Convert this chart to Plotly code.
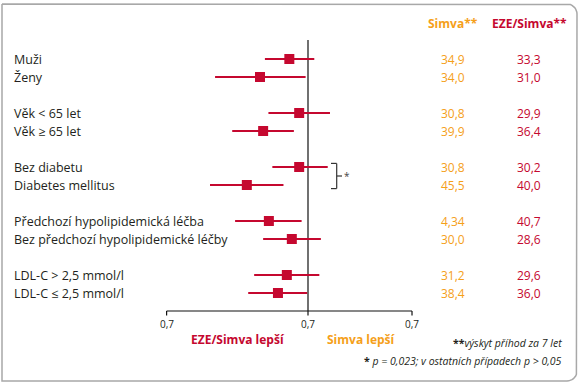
import plotly.graph_objects as go
import math

# ---- data ----
groups = [
    ["Muži", "Ženy"],
    ["Věk < 65 let", "Věk ≥ 65 let"],
    ["Bez diabetu", "Diabetes mellitus"],
    ["Předchozí hypolipidemická léčba", "Bez předchozí hypolipidemické léčby"],
    ["LDL-C > 2,5 mmol/l", "LDL-C ≤ 2,5 mmol/l"],
]
hr = [0.954, 0.886, 0.978, 0.893, 0.978, 0.857, 0.906, 0.960, 0.948, 0.927]
ci_lo = [0.897, 0.791, 0.905, 0.826, 0.914, 0.781, 0.832, 0.893, 0.873, 0.860]
ci_hi = [1.016, 0.994, 1.057, 0.965, 1.051, 0.940, 0.984, 1.033, 1.029, 0.998]
simva = ["34,9", "34,0", "30,8", "39,9", "30,8", "45,5", "4,34", "30,0", "31,2", "38,4"]
eze = ["33,3", "31,0", "29,9", "36,4", "30,2", "40,0", "40,7", "28,6", "29,6", "36,0"]
tick_vals = [0.7, 1.0, 1.3]
tick_text = ["0,7", "0,7", "0,7"]

RED = "#C5082F"
ORANGE = "#F5A01A"
TEXT = "#231F20"
FONT = "Open Sans"

W, H = 585, 384

# row positions: groups separated by one empty row
labels, rows = [], []
r = 0
for g in groups:
    for lab in g:
        labels.append(lab)
        rows.append(r)
        r += 1
    r += 1

fig = go.Figure()

# rounded border drawn on an overlay pixel axis
x0p, x1p, y0p, y1p, rad = 2, 577, 4, 381, 10
bx_, by_ = [x0p, x1p - rad], [y0p, y0p]
for i in range(1, 10):
    a = math.pi / 2 * i / 9
    bx_.append(x1p - rad + rad * math.sin(a)); by_.append(y0p + rad - rad * math.cos(a))
bx_ += [x1p]; by_ += [y1p - rad]
for i in range(1, 10):
    a = math.pi / 2 * i / 9
    bx_.append(x1p - rad + rad * math.cos(a)); by_.append(y1p - rad + rad * math.sin(a))
bx_ += [x0p, x0p]; by_ += [y1p, y0p]
fig.add_trace(go.Scatter(x=bx_, y=by_, xaxis="x2", yaxis="y2", mode="lines",
                         line=dict(color="#A8A8A8", width=1.5), hoverinfo="skip", showlegend=False))

# reference line at 1 and the axis with ticks
fig.add_trace(go.Scatter(x=[1.0, 1.0], y=[-1.06, 14.0], mode="lines",
                         line=dict(color="#111", width=1.2), hoverinfo="skip", showlegend=False))
ax_x, ax_y = [tick_vals[0], tick_vals[-1], None], [14.0, 14.0, None]
for tv in tick_vals:
    ax_x += [tv, tv, None]; ax_y += [14.0, 14.25, None]
fig.add_trace(go.Scatter(x=ax_x, y=ax_y, mode="lines",
                         line=dict(color="#111", width=1.2), hoverinfo="skip", showlegend=False))

# CI lines
xs, ys = [], []
for lo, hi, y in zip(ci_lo, ci_hi, rows):
    xs += [lo, hi, None]
    ys += [y, y, None]
fig.add_trace(go.Scatter(x=xs, y=ys, mode="lines", line=dict(color=RED, width=2),
                         hoverinfo="skip", showlegend=False))
fig.add_trace(go.Scatter(x=hr, y=rows, mode="markers",
                         marker=dict(symbol="square", size=10, color=RED, line=dict(width=0)),
                         showlegend=False))

LF = 12.5
ann = []
for lab, y, s, e in zip(labels, rows, simva, eze):
    ann.append(dict(x=12 / W, xref="paper", y=y, yref="y", text=lab, showarrow=False,
                    xanchor="left", yanchor="middle", font=dict(family=FONT, size=LF, color=TEXT)))
    ann.append(dict(x=453 / W, xref="paper", y=y, yref="y", text=s, showarrow=False,
                    xanchor="center", yanchor="middle", font=dict(family=FONT, size=12, color=ORANGE)))
    ann.append(dict(x=529 / W, xref="paper", y=y, yref="y", text=e, showarrow=False,
                    xanchor="center", yanchor="middle", font=dict(family=FONT, size=12, color=RED)))

# headers
ann.append(dict(x=453 / W, xref="paper", y=-2, yref="y", text="<b>Simva**</b>", showarrow=False,
                xanchor="center", yanchor="middle", font=dict(family=FONT, size=12, color=ORANGE)))
ann.append(dict(x=529 / W, xref="paper", y=-2, yref="y", text="<b>EZE/Simva**</b>", showarrow=False,
                xanchor="center", yanchor="middle", font=dict(family=FONT, size=12, color=RED)))

# axis tick labels
for tv, tt in zip(tick_vals, tick_text):
    ann.append(dict(x=math.log10(tv), xref="x", y=14.72, yref="y", text=tt, showarrow=False,
                    xanchor="center", yanchor="middle", font=dict(family=FONT, size=10, color=TEXT)))

ann.append(dict(x=238 / W, xref="paper", y=15.56, yref="y", text="<b>EZE/Simva lepší</b>", showarrow=False,
                xanchor="center", yanchor="middle", font=dict(family=FONT, size=12, color=RED)))
ann.append(dict(x=361 / W, xref="paper", y=15.56, yref="y", text="<b>Simva lepší</b>", showarrow=False,
                xanchor="center", yanchor="middle", font=dict(family=FONT, size=12, color=ORANGE)))
ann.append(dict(x=564 / W, xref="paper", y=15.78, yref="y", text="<b>**</b><i>výskyt příhod za 7 let</i>",
                showarrow=False, xanchor="right", yanchor="middle", font=dict(family=FONT, size=10.5, color=TEXT)))
ann.append(dict(x=564 / W, xref="paper", y=16.78, yref="y",
                text="<b>*</b> <i>p = 0,023; v ostatních případech p > 0,05</i>",
                showarrow=False, xanchor="right", yanchor="middle", font=dict(family=FONT, size=10.5, color=TEXT)))
# bracket asterisk
ann.append(dict(x=346.7 / W, xref="paper", y=6.5, yref="y", text="*", showarrow=False,
                xanchor="center", yanchor="middle", font=dict(family=FONT, size=10, color="#444")))

shapes = []
bx = 336.7 / W
bx0 = 331 / W
bx1 = 342 / W
br_col = "#333"
shapes.append(dict(type="line", xref="paper", yref="y", x0=bx, x1=bx, y0=5.8, y1=7.2, line=dict(color=br_col, width=1.2)))
shapes.append(dict(type="line", xref="paper", yref="y", x0=bx0, x1=bx, y0=5.8, y1=5.8, line=dict(color=br_col, width=1.2)))
shapes.append(dict(type="line", xref="paper", yref="y", x0=bx0, x1=bx, y0=7.2, y1=7.2, line=dict(color=br_col, width=1.2)))
shapes.append(dict(type="line", xref="paper", yref="y", x0=bx, x1=bx1, y0=6.5, y1=6.5, line=dict(color=br_col, width=1.2)))

k = 912.8  # pixels per log10 unit
fig.update_layout(
    width=W, height=H, margin=dict(l=0, r=0, t=0, b=0),
    paper_bgcolor="white", plot_bgcolor="white",
    xaxis=dict(type="log", range=[-308 / k, (W - 308) / k], visible=False, fixedrange=True),
    yaxis=dict(range=[(H - 59) / 18, -59 / 18], visible=False, fixedrange=True),
    xaxis2=dict(range=[0, W], visible=False, overlaying="x", fixedrange=True),
    yaxis2=dict(range=[H, 0], visible=False, overlaying="y", fixedrange=True),
    annotations=ann, shapes=shapes, showlegend=False,
)
fig.write_html("out.html", config={"displayModeBar": False},
               post_script="document.body.style.margin='0';")
